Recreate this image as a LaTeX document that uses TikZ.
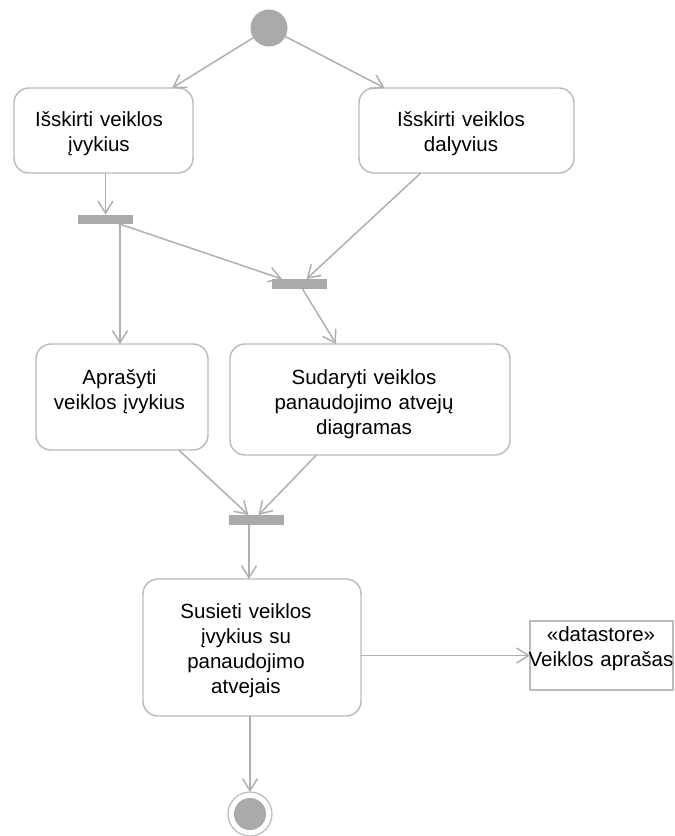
\documentclass[tikz,border=0pt]{standalone}
\usepackage{fontspec}
\setmainfont{Liberation Sans}
\usetikzlibrary{arrows.meta,calc}
\definecolor{linegray}{RGB}{176,176,176}
\definecolor{barfill}{RGB}{170,170,170}
\definecolor{boxline}{RGB}{186,186,186}
\begin{document}
\begin{tikzpicture}[x=1pt,y=-1pt,
  every node/.style={inner sep=0pt, outer sep=0pt},
  action/.style={draw=boxline, line width=1.4pt, rounded corners=15pt, fill=white},
  store/.style={draw=boxline, line width=1.4pt, fill=white},
  boxtext/.style={font=\fontsize{20.5}{25}\selectfont, text width=#1, align=center, anchor=base},
  boxtext/.default=220pt,
  bar/.style={rectangle, fill=barfill, draw=none, minimum width=55pt},
  initial/.style={circle, fill=barfill, minimum size=37pt},
  final/.style={circle, draw=boxline, line width=1.2pt, minimum size=44pt,
    path picture={\fill[barfill] (path picture bounding box.center) circle (16pt);}},
  flow/.style={draw=linegray, line width=1.5pt, -{Straight Barb[length=12pt,width=15pt]}}
]
\useasboundingbox (0,0) rectangle (675,836);
\fill[white] (0,0) rectangle (675,836);

% initial node
\node[initial] (start) at (269,28) {};

% first pair of actions
\node[action, minimum width=179pt, minimum height=85pt] (b1) at (103.5,130.5) {};
\node[boxtext] (b1t) at (99,126) {Išskirti veiklos\\įvykius};
\node[action, minimum width=215pt, minimum height=85pt] (b2) at (466.5,130.5) {};
\node[boxtext] (b2t) at (461,126) {Išskirti veiklos\\dalyvius};

% fork / join bars
\node[bar, minimum height=9pt] (bar1) at (105.5,219) {};
\node[bar, minimum height=10pt] (bar2) at (299.5,284) {};

% second pair of actions
\node[action, minimum width=172pt, minimum height=106pt] (b3) at (122,397) {};
\node[boxtext] (b3t) at (119.5,384) {Aprašyti\\veiklos įvykius};
\node[action, minimum width=280pt, minimum height=111pt] (b4) at (370,399.5) {};
\node[boxtext] (b4t) at (364,384) {Sudaryti veiklos\\panaudojimo atvejų\\diagramas};

\node[bar, minimum height=10pt] (bar3) at (256.5,520) {};

% final action, data store and final node
\node[action, minimum width=218pt, minimum height=137pt] (b5) at (252,647.5) {};
\node[boxtext] (b5t) at (246,618) {Susieti veiklos\\įvykius su\\panaudojimo\\atvejais};
\node[store, minimum width=143pt, minimum height=69pt] (ds) at (601.5,655.5) {};
\node[boxtext=170pt] (dst) at (601,641) {«datastore»\\Veiklos aprašas};
\node[final] (end) at (250,814) {};

% control flows
\draw[flow] (start) -- (b1);
\draw[flow] (start) -- (b2);
\draw[flow] (bar1.north |- b1.south) -- (bar1.north);
\draw[flow] ([xshift=-2pt]b3.north |- bar1.south) -- ([xshift=-2pt]b3.north);
\draw[flow] ([xshift=-15pt]bar1.south east) -- ([xshift=10pt]bar2.north west);
\draw[flow] (b2) -- ([xshift=7pt]bar2.north);
\draw[flow] (bar2) -- (b4);
\draw[flow] (b3) -- ([xshift=-8pt]bar3.north);
\draw[flow] (b4) -- ([xshift=2pt]bar3.north);
\draw[flow] ([xshift=-7.5pt]bar3.south) -- ([xshift=-7.5pt]bar3.south |- b5.north);
\draw[flow] (b5.east |- ds) -- (ds.west);
\draw[flow] (b5.south -| end) -- (end);
\end{tikzpicture}
\end{document}
